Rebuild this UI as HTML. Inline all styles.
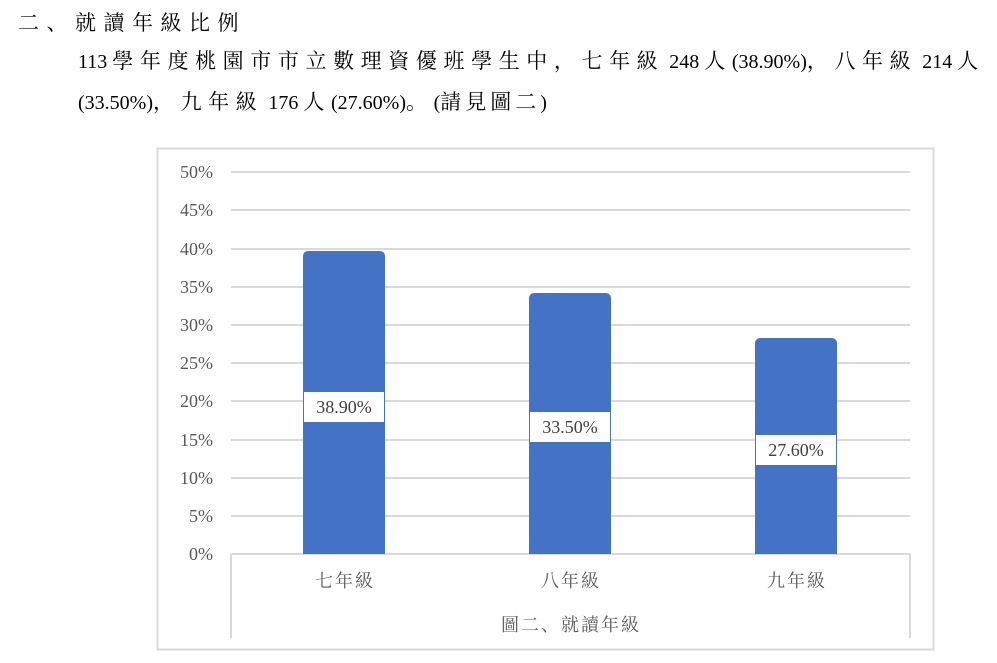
<!DOCTYPE html>
<html><head><meta charset="utf-8"><style>
body{margin:0;width:997px;height:663px;background:#fff;position:relative;overflow:hidden;font-family:"Liberation Serif","Noto Serif CJK SC","Noto Sans CJK TC",serif;color:#000}
.t{position:absolute;white-space:pre;font-size:20px}
.c{font-size:21px;letter-spacing:6.6px}
</style></head><body>
<div class="t" style="left:18px;top:7px"><span class="c" style="letter-spacing:7.5px">二、就讀年級比例</span></div>
<div class="t" style="left:78px;top:45px">113&nbsp;<span class="c">學年度桃園市市立數理資優班學生中，七年級</span>&nbsp;248&nbsp;<span class="c">人</span>(38.90%)<span class="c">，八年級</span>&nbsp;214&nbsp;<span class="c">人</span></div>
<div class="t" style="left:78px;top:86px">(33.50%)<span class="c">，九年級</span>&nbsp;176&nbsp;<span class="c">人</span>(27.60%)<span class="c">。</span>(<span class="c" style="letter-spacing:4px">請見圖二</span>)</div>
<svg width="997" height="663" style="position:absolute;left:0;top:0" font-family="Liberation Serif, Noto Serif CJK SC, serif">
<rect x="157.5" y="148.5" width="776" height="501" fill="none" stroke="#d9d9d9" stroke-width="2"/>
<g stroke="#d9d9d9" stroke-width="2">
<line x1="231" x2="910" y1="172" y2="172"/><line x1="231" x2="910" y1="210" y2="210"/>
<line x1="231" x2="910" y1="249" y2="249"/><line x1="231" x2="910" y1="287" y2="287"/>
<line x1="231" x2="910" y1="325" y2="325"/><line x1="231" x2="910" y1="363" y2="363"/>
<line x1="231" x2="910" y1="401" y2="401"/><line x1="231" x2="910" y1="440" y2="440"/>
<line x1="231" x2="910" y1="478" y2="478"/><line x1="231" x2="910" y1="516" y2="516"/>
<line x1="231" x2="910" y1="554" y2="554"/>
<line x1="231" x2="231" y1="554" y2="638"/><line x1="910" x2="910" y1="554" y2="638"/>
</g>
<g fill="#595959" font-size="18" text-anchor="end">
<text x="213" y="178">50%</text><text x="213" y="216">45%</text><text x="213" y="255">40%</text>
<text x="213" y="293">35%</text><text x="213" y="331">30%</text><text x="213" y="369">25%</text>
<text x="213" y="407">20%</text><text x="213" y="446">15%</text><text x="213" y="484">10%</text>
<text x="213" y="522">5%</text><text x="213" y="560">0%</text>
</g>
<g fill="#4472c4">
<path d="M303 554V256a5 5 0 0 1 5-5h72a5 5 0 0 1 5 5V554z"/>
<path d="M529 554V298a5 5 0 0 1 5-5h72a5 5 0 0 1 5 5V554z"/>
<path d="M755 554V343a5 5 0 0 1 5-5h72a5 5 0 0 1 5 5V554z"/>
</g>
<g fill="#fff"><rect x="304" y="392" width="80" height="30"/><rect x="530" y="412" width="80" height="30"/><rect x="756" y="435" width="80" height="30"/></g>
<g fill="#404040" font-size="18" text-anchor="middle">
<text x="344" y="413">38.90%</text><text x="570" y="433">33.50%</text><text x="796" y="456">27.60%</text>
</g>
<g fill="#595959" font-size="18" text-anchor="middle" letter-spacing="2">
<text x="345" y="587">七年級</text><text x="571" y="587">八年級</text><text x="797" y="587">九年級</text>
<text x="571" y="631">圖二、就讀年級</text>
</g>
</svg>
</body></html>
